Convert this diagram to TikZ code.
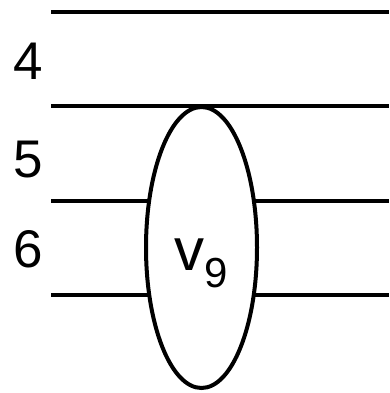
\documentclass[tikz,border=0pt]{standalone}
\usepackage{fontspec}
\setmainfont{Liberation Sans}
\usetikzlibrary{shapes.geometric}

\begin{document}
\begin{tikzpicture}[
      x=1pt,y=-1pt,
      wire/.style={line width=4.6pt,black},
      gateBox/.style={ellipse,draw=black,fill=white,line width=4pt,
                      minimum width=111pt,minimum height=281pt,inner sep=0pt},
      wireLabel/.style={anchor=base,inner sep=0pt,font=\fontsize{53}{53}\selectfont}
    ]
    \useasboundingbox (0,0) rectangle (389,393);

    % Horizontal wires
    \foreach \y [count=\i] in {12,106,201,295} {
      \coordinate (wl\i) at (51,\y);
      \coordinate (wr\i) at (389,\y);
      \draw[wire] (wl\i) -- (wr\i);
    }

    % Wire labels
    \node(l4)[wireLabel] at (28,80) {4};
    \node(l5)[wireLabel] at (28,177) {5};
    \node(l6)[wireLabel] at (28.5,267) {6};

    % Gate v9 spanning wires
    \node(v9)[gateBox] at (201.5,247.5) {};
    \node(v9lbl)[anchor=base,inner sep=0pt,font=\fontsize{60}{60}\selectfont]
      at (201,270) {v\raisebox{-17pt}{\fontsize{42}{42}\selectfont 9}};
  \end{tikzpicture}
\end{document}
